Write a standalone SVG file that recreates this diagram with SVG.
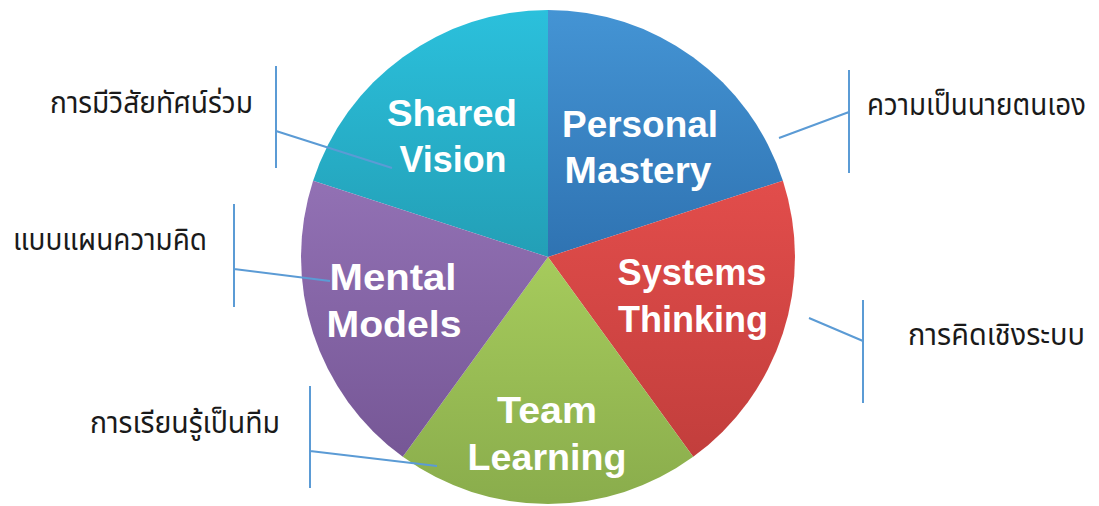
<svg xmlns="http://www.w3.org/2000/svg" width="1099" height="506" viewBox="0 0 1099 506">
<defs>
<linearGradient id="gSV" gradientUnits="userSpaceOnUse" x1="0" y1="10" x2="0" y2="257"><stop offset="0" stop-color="#2BC0DC"/><stop offset="1" stop-color="#239FB6"/></linearGradient>
<linearGradient id="gPM" gradientUnits="userSpaceOnUse" x1="0" y1="10" x2="0" y2="257"><stop offset="0" stop-color="#4494D4"/><stop offset="1" stop-color="#2F73B2"/></linearGradient>
<linearGradient id="gST" gradientUnits="userSpaceOnUse" x1="0" y1="180" x2="0" y2="457"><stop offset="0" stop-color="#E24D4B"/><stop offset="1" stop-color="#C23E3C"/></linearGradient>
<linearGradient id="gTL" gradientUnits="userSpaceOnUse" x1="0" y1="257" x2="0" y2="500"><stop offset="0" stop-color="#A6CB5C"/><stop offset="1" stop-color="#8AAD4C"/></linearGradient>
<linearGradient id="gMM" gradientUnits="userSpaceOnUse" x1="0" y1="180" x2="0" y2="457"><stop offset="0" stop-color="#9271B4"/><stop offset="1" stop-color="#765796"/></linearGradient>
</defs>
<style>
.lbl{font-family:"Liberation Sans","DejaVu Sans",sans-serif;font-weight:bold;font-size:37px;fill:#ffffff;text-anchor:middle}
.th{font-family:"Noto Sans Thai","Tahoma","DejaVu Sans","Noto Sans",sans-serif;font-size:31px;fill:#1a1a1a}
.cn{stroke:#5B9BD5;stroke-width:2;fill:none}
</style>
<g id="shared-vision">
<path d="M548,257 L313.1,180.7 A247,247 0 0 1 548,10 Z" fill="url(#gSV)"/>
<text class="lbl" x="452" y="126" textLength="130" lengthAdjust="spacingAndGlyphs">Shared</text>
<text class="lbl" x="453" y="172" textLength="107" lengthAdjust="spacingAndGlyphs">Vision</text>
</g>
<g id="personal-mastery">
<path d="M548,257 L548,10 A247,247 0 0 1 782.9,180.7 Z" fill="url(#gPM)"/>
<text class="lbl" x="640" y="137" textLength="156" lengthAdjust="spacingAndGlyphs">Personal</text>
<text class="lbl" x="638" y="183" textLength="147" lengthAdjust="spacingAndGlyphs">Mastery</text>
</g>
<g id="systems-thinking">
<path d="M548,257 L782.9,180.7 A247,247 0 0 1 693.2,456.8 Z" fill="url(#gST)"/>
<text class="lbl" x="692" y="285" textLength="149" lengthAdjust="spacingAndGlyphs">Systems</text>
<text class="lbl" x="693" y="332" textLength="150" lengthAdjust="spacingAndGlyphs">Thinking</text>
</g>
<g id="team-learning">
<path d="M548,257 L693.2,456.8 A247,247 0 0 1 402.8,456.8 Z" fill="url(#gTL)"/>
<text class="lbl" x="547" y="423" textLength="100" lengthAdjust="spacingAndGlyphs">Team</text>
<text class="lbl" x="547" y="470" textLength="159" lengthAdjust="spacingAndGlyphs">Learning</text>
</g>
<g id="mental-models">
<path d="M548,257 L402.8,456.8 A247,247 0 0 1 313.1,180.7 Z" fill="url(#gMM)"/>
<text class="lbl" x="393" y="290" textLength="127" lengthAdjust="spacingAndGlyphs">Mental</text>
<text class="lbl" x="394" y="337" textLength="135" lengthAdjust="spacingAndGlyphs">Models</text>
</g>
<g id="connectors">
<path class="cn" d="M276,66 V168 M276,131 L392,168"/>
<path class="cn" d="M849,70 V173 M849,112 L779,138"/>
<path class="cn" d="M234,204 V307 M234,269 L330,281"/>
<path class="cn" d="M863,300 V403 M863,341 L809,318"/>
<path class="cn" d="M310,386 V488 M310,451 L437,466"/>
</g>
<g id="thai-labels">
<text class="th" x="50" y="113" textLength="203" lengthAdjust="spacingAndGlyphs">การมีวิสัยทัศน์ร่วม</text>
<text class="th" x="867" y="115" font-size="27" textLength="219" lengthAdjust="spacingAndGlyphs">ความเป็นนายตนเอง</text>
<text class="th" x="13" y="250" textLength="194" lengthAdjust="spacingAndGlyphs">แบบแผนความคิด</text>
<text class="th" x="908" y="345" textLength="177" lengthAdjust="spacingAndGlyphs">การคิดเชิงระบบ</text>
<text class="th" x="90" y="433" textLength="190" lengthAdjust="spacingAndGlyphs">การเรียนรู้เป็นทีม</text>
</g>
</svg>
